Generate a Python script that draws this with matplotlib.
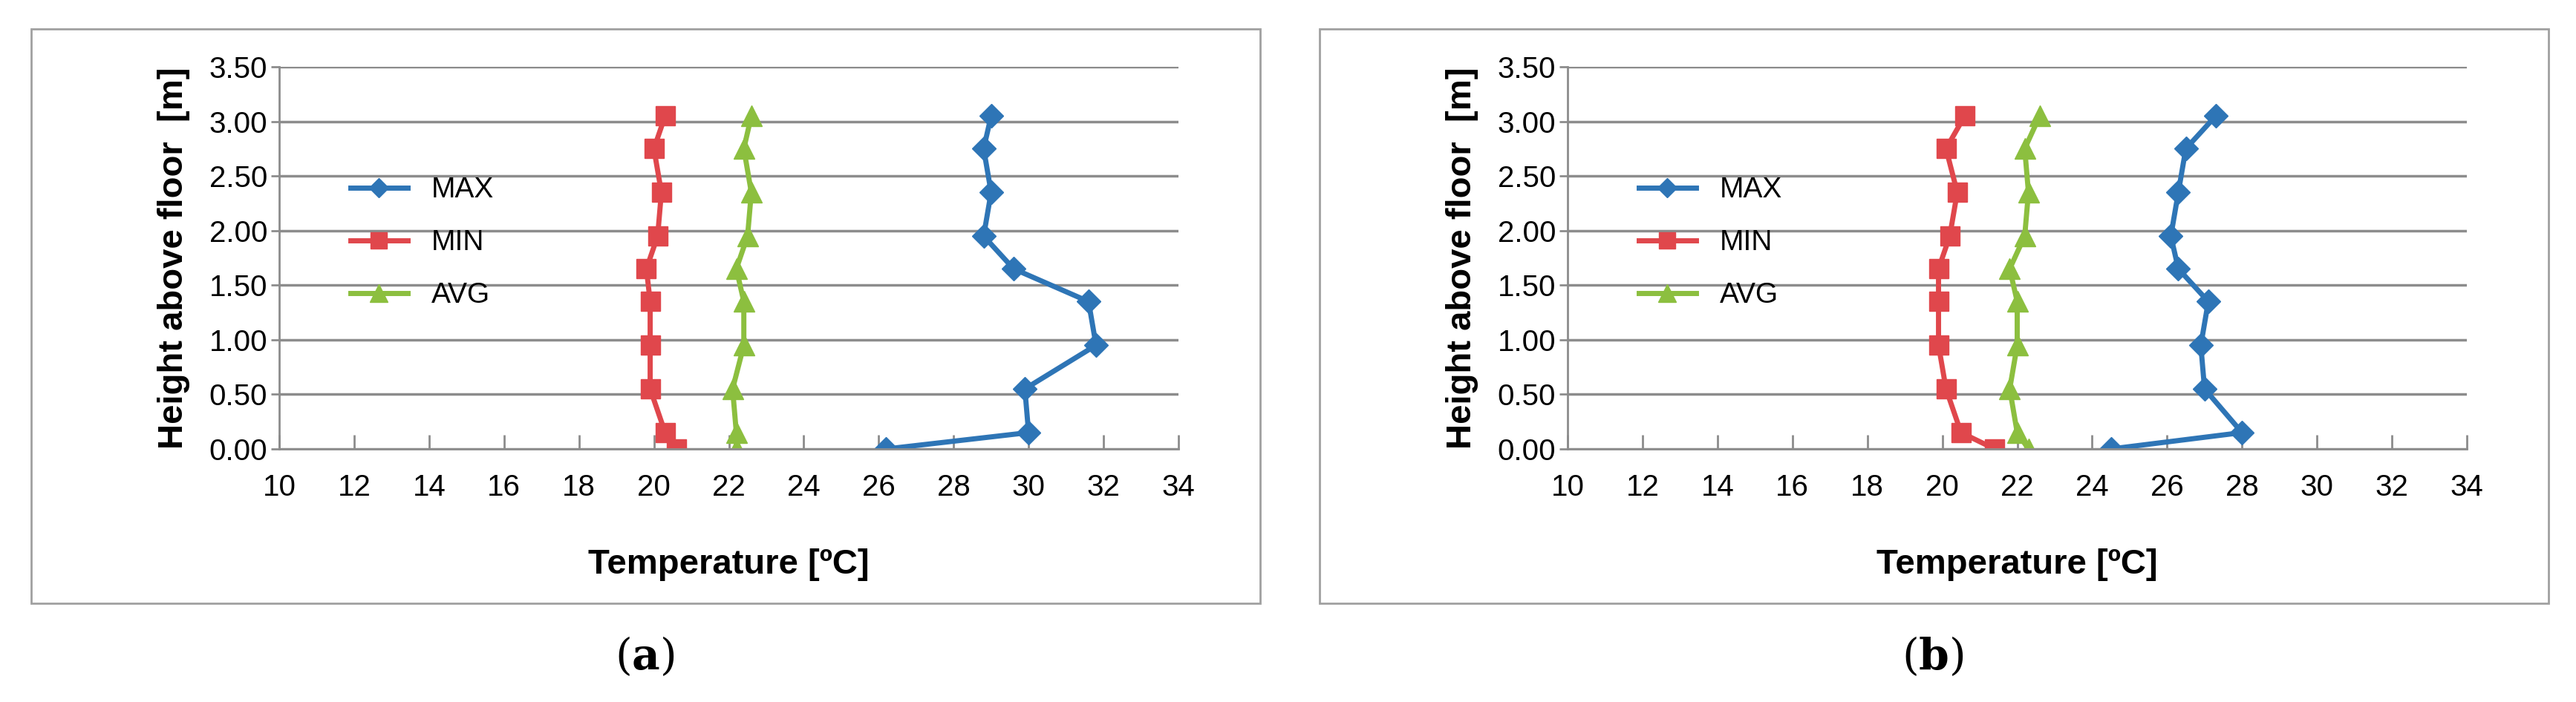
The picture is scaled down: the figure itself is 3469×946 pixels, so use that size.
import matplotlib
matplotlib.use("Agg")
import matplotlib.pyplot as plt
from matplotlib.patches import Rectangle

# Heights of measurement points [m]
heights = [3.05, 2.75, 2.35, 1.95, 1.65, 1.35, 0.95, 0.55, 0.15, 0.00]

# Panel (a)
max_a = [29.0, 28.8, 29.0, 28.8, 29.6, 31.6, 31.8, 29.9, 30.0, 26.2]
min_a = [20.3, 20.0, 20.2, 20.1, 19.8, 19.9, 19.9, 19.9, 20.3, 20.6]
avg_a = [22.6, 22.4, 22.6, 22.5, 22.2, 22.4, 22.4, 22.1, 22.2, 22.2]

# Panel (b)
max_b = [27.3, 26.5, 26.3, 26.1, 26.3, 27.1, 26.9, 27.0, 28.0, 24.5]
min_b = [20.6, 20.1, 20.4, 20.2, 19.9, 19.9, 19.9, 20.1, 20.5, 21.4]
avg_b = [22.6, 22.2, 22.3, 22.2, 21.8, 22.0, 22.0, 21.8, 22.0, 22.3]

panel_labels = ["a", "b"]
x_ticks = list(range(10, 35, 2))
y_ticks = [0.0, 0.5, 1.0, 1.5, 2.0, 2.5, 3.0, 3.5]

BLUE = "#2e75b6"
RED = "#e0474c"
GREEN = "#8cbf3f"

plt.rcParams["font.family"] = ["Liberation Sans", "DejaVu Sans"]

W, H = 3469, 946
fig = plt.figure(figsize=(W / 100, H / 100), dpi=100)


def draw_panel(x0, mx, mn, av, label):
    # outer frame box
    fig.patches.append(Rectangle((x0 + 42 / W, 1 - 813 / H), 1655 / W, 774 / H,
                                 transform=fig.transFigure, fill=False,
                                 edgecolor="#a0a0a0", linewidth=2))
    ax = fig.add_axes([x0 + 376 / W, 1 - 605 / H, 1211 / W, 515 / H])
    ax.plot(mx, heights, color=BLUE, marker="D", markersize=16, linewidth=5, label="MAX")
    ax.plot(mn, heights, color=RED, marker="s", markersize=19, linewidth=5, label="MIN")
    ax.plot(av, heights, color=GREEN, marker="^", markersize=20, linewidth=5, label="AVG")
    ax.set_xlim(10, 34)
    ax.set_ylim(0, 3.5)
    ax.set_xticks(x_ticks)
    ax.set_yticks(y_ticks)
    ax.set_yticklabels([f"{v:.2f}" for v in y_ticks])
    ax.grid(axis="y", color="#8c8c8c", linewidth=2.5)
    ax.set_axisbelow(True)
    for s in ["top", "right"]:
        ax.spines[s].set_visible(False)
    for s in ["left", "bottom"]:
        ax.spines[s].set_color("#8c8c8c")
        ax.spines[s].set_linewidth(2)
    ax.tick_params(axis="x", direction="in", length=14, width=2, color="#8c8c8c",
                   labelsize=29, pad=24)
    ax.tick_params(axis="y", length=8, width=2, color="#8c8c8c", labelsize=29)
    ax.set_xlabel("Temperature [ºC]", fontsize=34, fontweight="bold", labelpad=45)
    ax.set_ylabel("Height above floor  [m]", fontsize=34, fontweight="bold", labelpad=18)
    ax.legend(loc="upper left", bbox_to_anchor=(0.05, 0.78), frameon=False,
              fontsize=28, handlelength=2.0, labelspacing=0.9, markerscale=0.85)
    fig.text(x0 + 868 / W, 1 - 885 / H, r"($\mathbf{" + label + r"}$)", fontsize=42,
             family="DejaVu Serif", math_fontfamily="dejavuserif",
             ha="center", va="center")


draw_panel(0.0, max_a, min_a, avg_a, panel_labels[0])
draw_panel(1735 / W, max_b, min_b, avg_b, panel_labels[1])

fig.savefig("out.png", dpi=100)
